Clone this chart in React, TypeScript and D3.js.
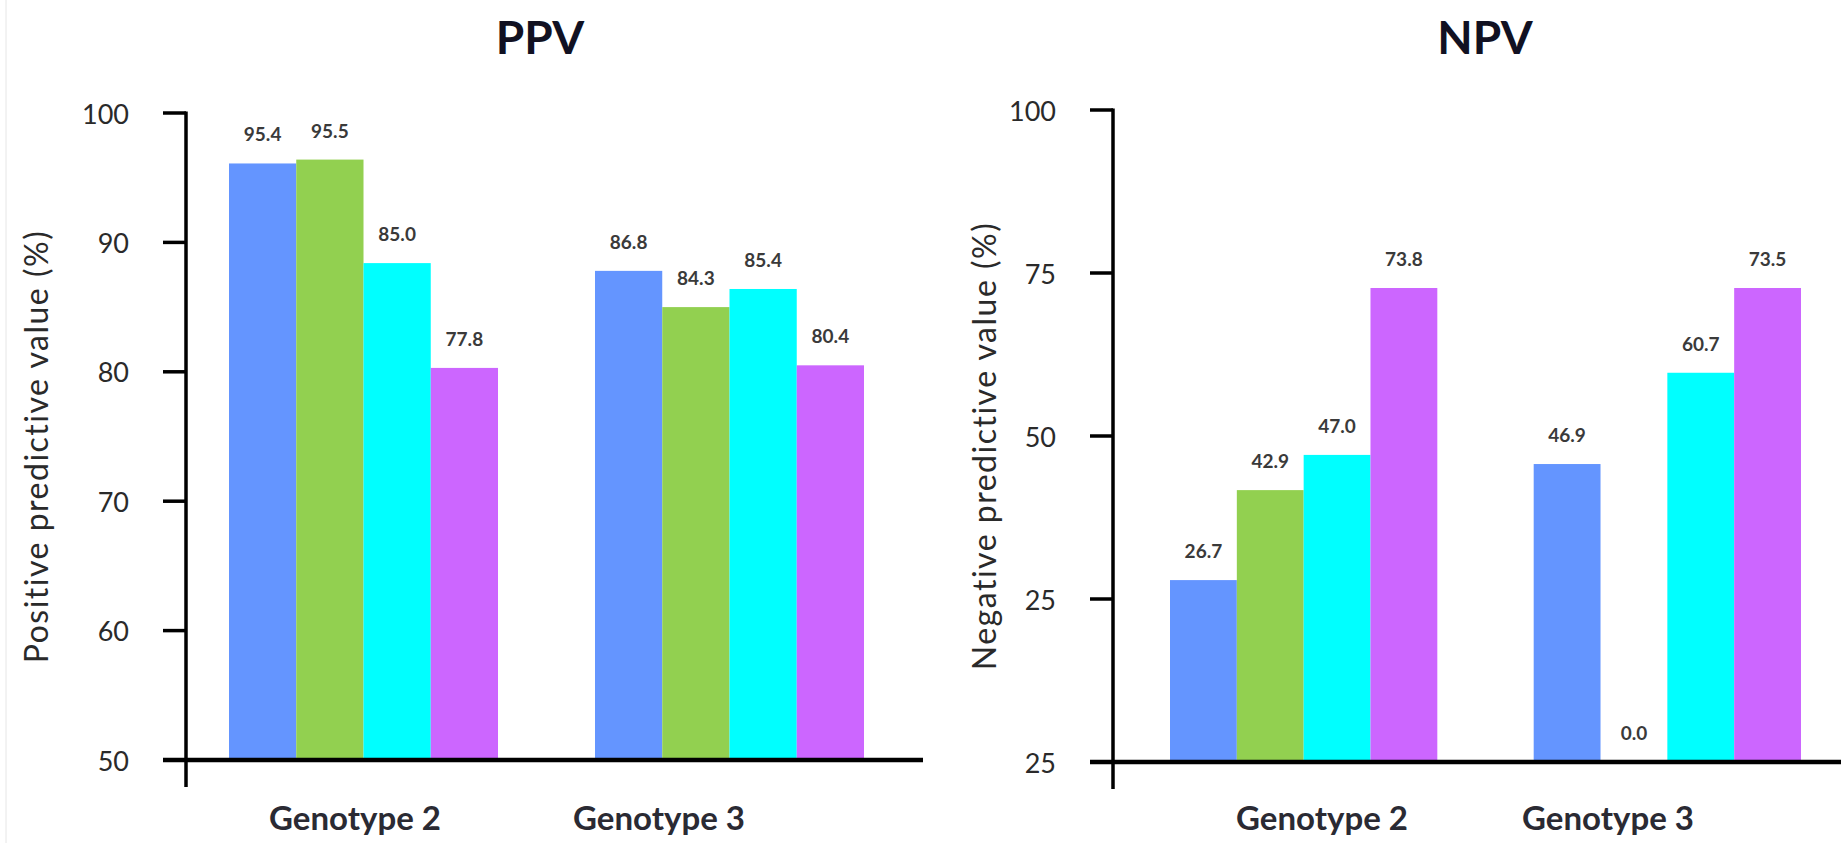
import React from "react";
import * as d3 from "d3";

// ---------- data ----------
const groups = ["Genotype 2", "Genotype 3"];
const seriesNames = ["s1", "s2", "s3", "s4"];
const seriesColors = ["#6495FF", "#92D050", "#00FFFF", "#CC66FF"];

// PPV: bar heights as drawn, and the printed value labels
const ppvG2 = [96.1, 96.4, 88.4, 80.3];
const ppvG3 = [87.8, 85.0, 86.4, 80.5];
const ppvLabelsG2 = ["95.4", "95.5", "85.0", "77.8"];
const ppvLabelsG3 = ["86.8", "84.3", "85.4", "80.4"];
const ppvTicks = [50, 60, 70, 80, 90, 100];
const ppvTickLabels = ["50", "60", "70", "80", "90", "100"];

// NPV
const npvG2 = [27.9, 41.7, 47.1, 72.7];
const npvG3 = [45.7, 0, 59.7, 72.7];
const npvLabelsG2 = ["26.7", "42.9", "47.0", "73.8"];
const npvLabelsG3 = ["46.9", "0.0", "60.7", "73.5"];
const npvTicks = [0, 25, 50, 75, 100];
const npvTickLabels = ["25", "25", "50", "75", "100"];

const FONT = "Lato, 'Open Sans', sans-serif";

type PanelProps = {
  title: string;
  titleX: number;
  yLabel: string;
  yLabelX: number;
  axisX: number;
  top: number;
  baseY: number;
  axisBottom: number;
  xAxisRight: number;
  barRange: [number, number];
  domain: [number, number];
  ticks: number[];
  tickLabels: string[];
  values: number[][];
  labels: string[][];
  groupLabelX: number[];
};

function Panel(p: PanelProps) {
  const y = d3.scaleLinear().domain(p.domain).range([p.baseY, p.top]);
  const x0 = d3.scaleBand<string>().domain(groups).range(p.barRange).paddingInner(0.265).paddingOuter(0);
  const x1 = d3.scaleBand<string>().domain(seriesNames).range([0, x0.bandwidth()]).padding(0);
  const tickLen = 23;
  return (
    <g>
      <text x={p.titleX} y={54} textAnchor="middle" fontFamily={FONT} fontWeight={700} fontSize={46} fill="#111122">
        {p.title}
      </text>
      <text
        transform={`translate(${p.yLabelX},${(p.top + p.baseY) / 2 + 10}) rotate(-90)`}
        textAnchor="middle"
        dominantBaseline="central"
        fontFamily={FONT}
        fontSize={32}
        letterSpacing={1.5}
        fill="#2a2a2a"
      >
        {p.yLabel}
      </text>
      {groups.map((g, gi) =>
        seriesNames.map((s, si) => {
          const v = p.values[gi][si];
          const bx = (x0(g) as number) + (x1(s) as number);
          const by = y(v);
          return (
            <g key={g + s}>
              {v > p.domain[0] && (
                <rect x={bx} y={by} width={x1.bandwidth()} height={p.baseY - by} fill={seriesColors[si]} />
              )}
              <text
                x={bx + x1.bandwidth() / 2}
                y={Math.min(by, p.baseY) - 22}
                textAnchor="middle"
                fontFamily={FONT}
                fontWeight={700}
                fontSize={19}
                fill="#3a3a3a"
              >
                {p.labels[gi][si]}
              </text>
            </g>
          );
        })
      )}
      {/* y axis */}
      <line x1={p.axisX} x2={p.axisX} y1={p.top - 1.5} y2={p.axisBottom} stroke="#000" strokeWidth={3.5} />
      {p.ticks.map((t, i) => (
        <g key={t + "-" + i}>
          <line x1={p.axisX - tickLen} x2={p.axisX} y1={y(t)} y2={y(t)} stroke="#000" strokeWidth={3.5} />
          <text
            x={p.axisX - tickLen - 34}
            y={y(t)}
            textAnchor="end"
            dominantBaseline="central"
            fontFamily={FONT}
            fontSize={27}
            fill="#2a2a2a"
          >
            {p.tickLabels[i]}
          </text>
        </g>
      ))}
      {/* x axis */}
      <line x1={p.axisX - tickLen} x2={p.xAxisRight} y1={p.baseY} y2={p.baseY} stroke="#000" strokeWidth={4.5} />
      {groups.map((g, gi) => (
        <text
          key={g}
          x={p.groupLabelX[gi]}
          y={830}
          textAnchor="middle"
          fontFamily={FONT}
          fontWeight={700}
          fontSize={33}
          fill="#2a2a33"
        >
          {g}
        </text>
      ))}
    </g>
  );
}

export default function App() {
  return (
    <svg width={1841} height={843} style={{ display: "block", position: "absolute", left: 0, top: 0, background: "#fff" }}>
      <rect width={1841} height={843} fill="#fff" />
      <line x1={6} x2={6} y1={0} y2={843} stroke="#e6e6e6" strokeWidth={1} />
      <Panel
        title="PPV"
        titleX={540}
        yLabel="Positive predictive value (%)"
        yLabelX={35}
        axisX={186}
        top={113}
        baseY={760}
        axisBottom={787}
        xAxisRight={923}
        barRange={[229, 864]}
        domain={[50, 100]}
        ticks={ppvTicks}
        tickLabels={ppvTickLabels}
        values={[ppvG2, ppvG3]}
        labels={[ppvLabelsG2, ppvLabelsG3]}
        groupLabelX={[355, 659]}
      />
      <Panel
        title="NPV"
        titleX={1485}
        yLabel="Negative predictive value (%)"
        yLabelX={983}
        axisX={1113}
        top={110}
        baseY={762}
        axisBottom={789}
        xAxisRight={1841}
        barRange={[1170, 1801]}
        domain={[0, 100]}
        ticks={npvTicks}
        tickLabels={npvTickLabels}
        values={[npvG2, npvG3]}
        labels={[npvLabelsG2, npvLabelsG3]}
        groupLabelX={[1322, 1608]}
      />
    </svg>
  );
}
